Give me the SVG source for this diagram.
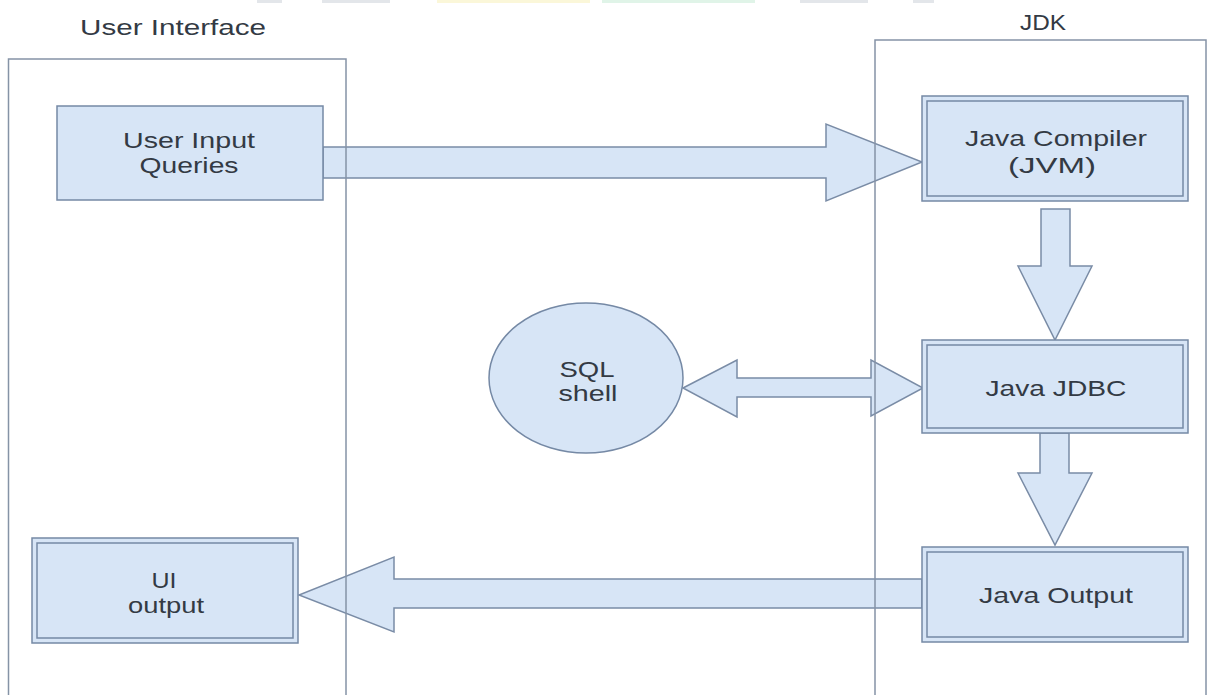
<svg xmlns="http://www.w3.org/2000/svg" width="1211" height="695" viewBox="0 0 1211 695">
<defs>
<style>
.bg{fill:#ffffff}
.cont{fill:none;stroke:#8593a6;stroke-width:1.5}
.node{fill:#d7e5f6;stroke:#7589a5;stroke-width:1.5}
.inner{fill:none;stroke:#7589a5;stroke-width:1.5}
.arrow{fill:#d7e5f6;stroke:#7a8ca6;stroke-width:1.5;stroke-linejoin:miter}
.t{font-family:"Liberation Sans",Arial,sans-serif;font-size:22px;fill:#333a44;text-anchor:middle}
.bar{stroke:none}
</style>
</defs>
<rect class="bg" x="0" y="0" width="1211" height="695"/>
<g id="top-strip">
<rect class="bar" x="257" y="0" width="25" height="3" fill="#e3e6ea"/>
<rect class="bar" x="322" y="0" width="68" height="3" fill="#e3e6ea"/>
<rect class="bar" x="437" y="0" width="153" height="3" fill="#fbf7d9"/>
<rect class="bar" x="602" y="0" width="153" height="3" fill="#e0f4e8"/>
<rect class="bar" x="800" y="0" width="68" height="3" fill="#e3e6ea"/>
<rect class="bar" x="913" y="0" width="21" height="3" fill="#e3e6ea"/>
</g>
<g id="connectors">
<polygon class="arrow" points="323,147 826,147 826,124 922,162 826,201 826,178 323,178"/>
<polygon class="arrow" points="1041,209 1070,209 1070,266 1092,266 1055,340 1018,266 1041,266"/>
<polygon class="arrow" points="1040,433 1069,433 1069,473 1092,473 1055,545 1018,473 1040,473"/>
<polygon class="arrow" points="922,579 394,579 394,557 299,595 394,632 394,608 922,608"/>
<polygon class="arrow" points="683,388 737,360 737,378 871,378 871,360 923,388 871,416 871,397 737,397 737,417"/>
</g>
<g id="user-interface">
<rect class="cont" x="8.5" y="59" width="337.5" height="645"/>
<text class="t" x="173" y="35" textLength="186" lengthAdjust="spacingAndGlyphs">User Interface</text>
</g>
<g id="jdk">
<rect class="cont" x="875" y="40" width="331" height="664"/>
<text class="t" x="1043" y="30" textLength="46" lengthAdjust="spacingAndGlyphs">JDK</text>
</g>
<g id="user-input-queries">
<rect class="node" x="57" y="106" width="266" height="94"/>
<text class="t" x="189" y="148" textLength="132" lengthAdjust="spacingAndGlyphs">User Input</text>
<text class="t" x="189" y="173" textLength="99" lengthAdjust="spacingAndGlyphs">Queries</text>
</g>
<g id="java-compiler">
<rect class="node" x="922" y="96" width="266" height="105"/>
<rect class="inner" x="927" y="101" width="256" height="95"/>
<text class="t" x="1056" y="146" textLength="182" lengthAdjust="spacingAndGlyphs">Java Compiler</text>
<text class="t" x="1052" y="173" textLength="88" lengthAdjust="spacingAndGlyphs">(JVM)</text>
</g>
<g id="sql-shell">
<ellipse class="node" cx="586" cy="378" rx="97" ry="75"/>
<text class="t" x="587" y="377" textLength="55" lengthAdjust="spacingAndGlyphs">SQL</text>
<text class="t" x="588" y="401" textLength="59" lengthAdjust="spacingAndGlyphs">shell</text>
</g>
<g id="java-jdbc">
<rect class="node" x="922" y="340" width="266" height="93"/>
<rect class="inner" x="927" y="345" width="256" height="83"/>
<text class="t" x="1056" y="396" textLength="141" lengthAdjust="spacingAndGlyphs">Java JDBC</text>
</g>
<g id="java-output">
<rect class="node" x="922" y="547" width="266" height="95"/>
<rect class="inner" x="927" y="552" width="256" height="85"/>
<text class="t" x="1056" y="603" textLength="154" lengthAdjust="spacingAndGlyphs">Java Output</text>
</g>
<g id="ui-output">
<rect class="node" x="32" y="538" width="266" height="105"/>
<rect class="inner" x="37" y="543" width="256" height="95"/>
<text class="t" x="164" y="588" textLength="25" lengthAdjust="spacingAndGlyphs">UI</text>
<text class="t" x="166" y="613" textLength="76" lengthAdjust="spacingAndGlyphs">output</text>
</g>
</svg>
